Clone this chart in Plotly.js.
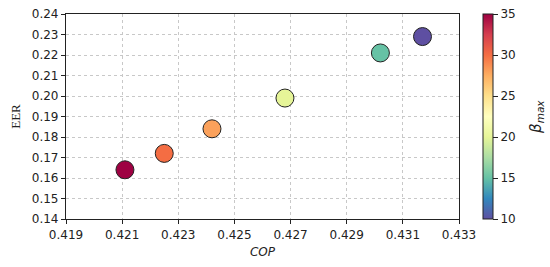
<!DOCTYPE html>
<html>
<head>
<meta charset="utf-8">
<script src="https://cdn.plot.ly/plotly-3.0.1.min.js"></script>
<style>
  html, body { margin: 0; padding: 0; background: #fff; }
  #plotArea { width: 550px; height: 267px; }
</style>
</head>
<body>
<div id="plotArea"></div>
<script>
var cop = [0.4211, 0.4225, 0.4242, 0.4268, 0.4302, 0.4317];
var eer = [0.164, 0.172, 0.184, 0.199, 0.221, 0.229];
var betaMax = [35, 30, 28, 20, 15, 10];
var betaTicks = [10, 15, 20, 25, 30, 35];

// matplotlib Spectral_r
var spectralR = [
    [0.0, "rgb(94,79,162)"], [0.1, "rgb(50,136,189)"], [0.2, "rgb(102,194,165)"],
    [0.3, "rgb(171,221,164)"], [0.4, "rgb(230,245,152)"], [0.5, "rgb(255,255,191)"],
    [0.6, "rgb(254,224,139)"], [0.7, "rgb(253,174,97)"], [0.8, "rgb(244,109,67)"],
    [0.9, "rgb(213,62,79)"], [1.0, "rgb(158,1,66)"]
];

var trace = {
    x: cop,
    y: eer,
    mode: "markers",
    type: "scatter",
    marker: {
        size: 18,
        color: betaMax,
        cmin: 10,
        cmax: 35,
        colorscale: spectralR,
        line: {color: "#222", width: 1},
        colorbar: {
            x: 1.061, xanchor: "left", xpad: 0,
            y: 0.5, yanchor: "middle", ypad: 0,
            len: 1, lenmode: "fraction",
            thickness: 10,
            outlinewidth: 1, outlinecolor: "#222",
            ticks: "outside", ticklen: 5, tickcolor: "#222",
            tickvals: betaTicks, tickprefix: " ",
            tickfont: {family: "DejaVu Sans", size: 12, color: "#222"}
        }
    }
};

var axisBase = {
    showline: true, mirror: true, linecolor: "#222", linewidth: 1.2,
    ticks: "outside", ticklen: 4, tickcolor: "#222",
    showgrid: true, gridcolor: "#c8c8c8", griddash: "dot", gridwidth: 1,
    zeroline: false,
    tickfont: {family: "DejaVu Sans", size: 12, color: "#222"}
};

var layout = {
    width: 550, height: 267,
    margin: {l: 66, r: 91, t: 14, b: 48},
    paper_bgcolor: "#fff", plot_bgcolor: "#fff",
    showlegend: false,
    xaxis: Object.assign({}, axisBase, {
        range: [0.419, 0.433], tickvals: [0.419, 0.421, 0.423, 0.425, 0.427, 0.429, 0.431, 0.433],
        tickformat: ".3f",
        title: {text: "<i>COP</i>", standoff: 7, font: {family: "DejaVu Sans", size: 12, color: "#222"}}
    }),
    yaxis: Object.assign({}, axisBase, {
        range: [0.14, 0.24], dtick: 0.01, tickformat: ".2f",
        title: {text: "EER", standoff: 8, font: {family: "Liberation Serif", size: 13, color: "#222"}}
    }),
    annotations: [{
        text: "<i>β</i><sub><i>max</i></sub>",
        xref: "paper", yref: "paper", x: 1.197, y: 0.5,
        xanchor: "center", yanchor: "middle", textangle: -90, showarrow: false,
        font: {family: "DejaVu Sans", size: 15, color: "#222"}
    }]
};

Plotly.newPlot("plotArea", [trace], layout, {displayModeBar: false});
</script>
</body>
</html>
